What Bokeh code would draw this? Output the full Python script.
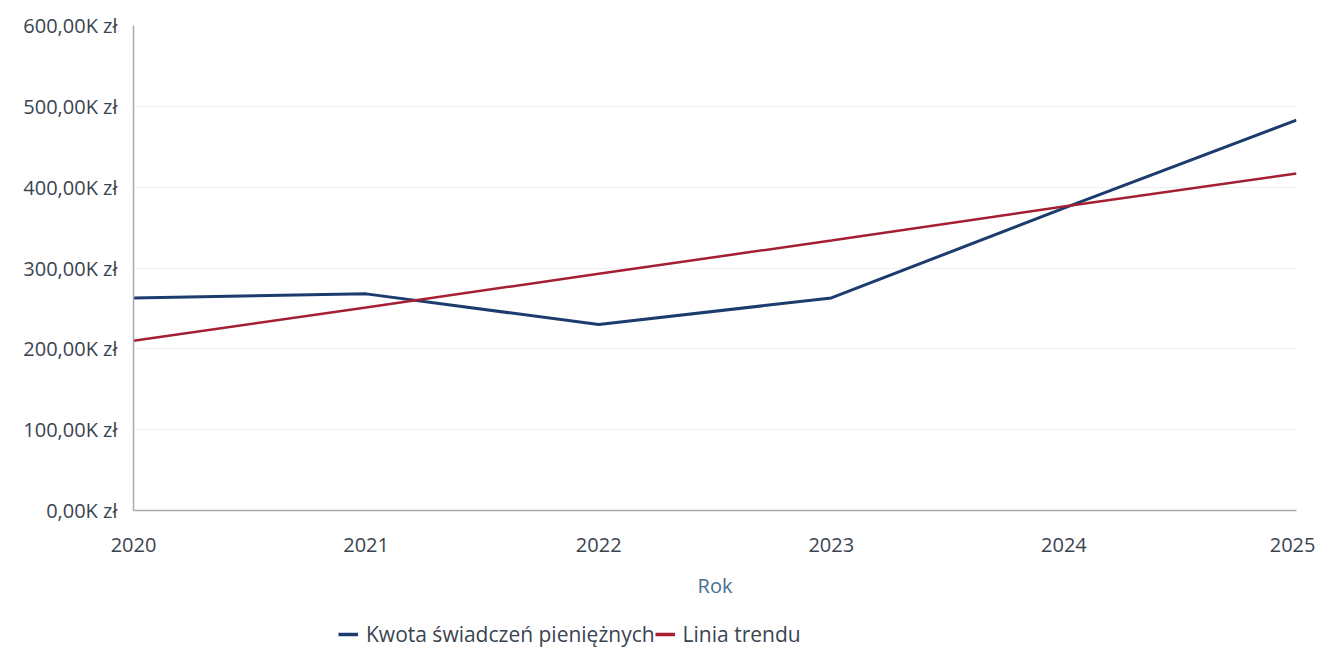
from bokeh.plotting import figure
from bokeh.layouts import column
from bokeh.models import Legend, LegendItem, CustomJSTickFormatter, FixedTicker, Range1d
from bokeh.embed import file_html
from bokeh.resources import INLINE

years = [2020, 2021, 2022, 2023, 2024, 2025]
kwota = [263000, 268000, 230000, 263000, 374000, 483000]
trend = [210000, 251000, 293000, 334000, 376000, 417000]
y_ticks = [0, 100000, 200000, 300000, 400000, 500000, 600000]
series_names = ["Kwota świadczeń pieniężnych", "Linia trendu"]

FONT = "Open Sans"
BLUE = "#1d3c6e"
RED = "#a61e34"
TXT = "#3a4450"

p = figure(width=1315, height=610, output_backend="svg", toolbar_location=None,
           x_range=Range1d(2020, 2025), y_range=Range1d(0, 600000),
           min_border_left=133, min_border_right=19, min_border_top=25,
           min_border_bottom=100)
p.outline_line_color = None

p.line(years, kwota, line_color=BLUE, line_width=3)
p.line(years, trend, line_color=RED, line_width=2.5)

p.xaxis.ticker = FixedTicker(ticks=years)
p.yaxis.ticker = FixedTicker(ticks=y_ticks)
p.yaxis.formatter = CustomJSTickFormatter(code="return (tick/1000).toFixed(2).replace('.', ',') + 'K zł';")

for ax in (p.xaxis[0], p.yaxis[0]):
    ax.major_tick_line_color = None
    ax.minor_tick_line_color = None
    ax.axis_line_color = "#a7abb0"
    ax.axis_line_width = 1.5
    ax.major_label_text_font = FONT
    ax.major_label_text_font_size = "20px"
    ax.major_label_text_color = TXT

p.yaxis.major_label_standoff = 10
p.xaxis.major_label_standoff = 21
p.xaxis.axis_label = "Rok"
p.xaxis.axis_label_text_font = FONT
p.xaxis.axis_label_text_font_style = "normal"
p.xaxis.axis_label_text_font_size = "20px"
p.xaxis.axis_label_text_color = "#45708f"
p.xaxis.axis_label_standoff = 17

p.xgrid.grid_line_color = None
p.ygrid.grid_line_color = "#eef0f2"
p.ygrid.grid_line_width = 1

# legend strip (frame aligned with the main chart's frame)
lg = figure(width=1315, height=40, output_backend="svg", toolbar_location=None,
            x_axis_type=None, y_axis_type=None, x_range=Range1d(0, 1), y_range=Range1d(0, 1),
            min_border_left=0, min_border_right=0, min_border_top=0, min_border_bottom=0)
lg.outline_line_color = None
lg.xgrid.grid_line_color = None
lg.ygrid.grid_line_color = None
l1 = lg.line([-5, -4], [-5, -4], line_color=BLUE, line_width=3.5)
l2 = lg.line([-5, -4], [-5, -4], line_color=RED, line_width=3.5)
legend = Legend(items=[LegendItem(label=series_names[0], renderers=[l1]),
                       LegendItem(label=series_names[1], renderers=[l2])],
                orientation="horizontal", location=(205, 2),
                label_text_font=FONT, label_text_font_size="21px", label_text_color=TXT,
                glyph_width=20, label_standoff=8, spacing=0, padding=2, margin=0,
                border_line_color=None, background_fill_alpha=0)
lg.add_layout(legend, "center")

open("out.html", "w").write(file_html(column(p, lg, spacing=0), INLINE))
